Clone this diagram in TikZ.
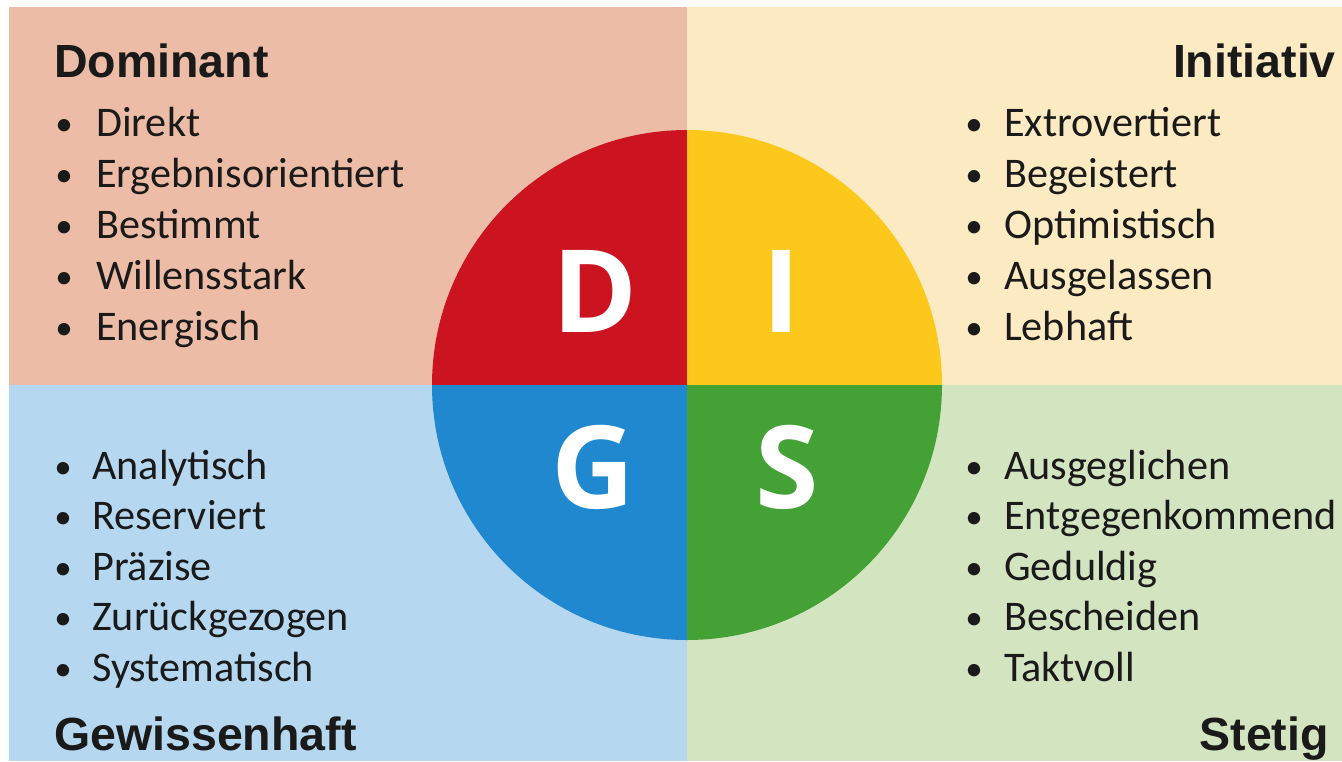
\documentclass[tikz,border=0pt]{standalone}
\usepackage{fontspec}
\setmainfont{Carlito}
\newfontfamily\hdfont{Liberation Sans}
\newfontfamily\ltfont{Open Sans}
\definecolor{bgD}{HTML}{EDBCA6}
\definecolor{bgI}{HTML}{FCEBC2}
\definecolor{bgG}{HTML}{B5D8F0}
\definecolor{bgS}{HTML}{D3E4C1}
\definecolor{cD}{HTML}{CC1420}
\definecolor{cI}{HTML}{FCC81C}
\definecolor{cG}{HTML}{1F88CE}
\definecolor{cS}{HTML}{44A136}
\definecolor{txt}{HTML}{1A1A1A}
\begin{document}
\begin{tikzpicture}[x=1pt,y=-1pt,
  item/.style={anchor=base west, inner sep=0pt, text=txt, font=\fontsize{42.2}{42.2}\selectfont},
  bul/.style={anchor=base, inner sep=0pt, text=txt, font=\fontsize{35}{35}\selectfont},
  hd/.style={inner sep=0pt, text=txt, font=\hdfont\bfseries\fontsize{46.5}{46.5}\selectfont},
  letter/.style={inner sep=0pt, text=white, font=\ltfont\bfseries\fontsize{115}{115}\selectfont}]
\useasboundingbox (0,0) rectangle (1342,761);
\fill[white] (0,0) rectangle (1342,761);
% quadrant backgrounds
\fill[bgD] (9,7) rectangle (687,385);
\fill[bgI] (687,7) rectangle (1342,385);
\fill[bgG] (9,385) rectangle (687,761);
\fill[bgS] (687,385) rectangle (1342,761);
% circle
\begin{scope}
  \clip (687,385) circle[radius=255pt];
  \fill[cD] (420,120) rectangle (687,385);
  \fill[cI] (687,120) rectangle (950,385);
  \fill[cG] (420,385) rectangle (687,650);
  \fill[cS] (687,385) rectangle (950,650);
\end{scope}
\node[letter] (LD) at (595,291) {D};
\node[letter] (LI) at (782,291) {I};
\node[letter] (LG) at (593,467) {G};
\node[letter] (LS) at (787,467) {S};
% headings
\node[hd, anchor=base west] (hD) at (54,77) {Dominant};
\node[hd, anchor=base east] (hI) at (1336,77) {Initiativ};
\node[hd, anchor=base west] (hG) at (54,750) {Gewissenhaft};
\node[hd, anchor=base east] (hS) at (1329,750) {Stetig};
% lists
\foreach \t [count=\k, evaluate=\k as \yy using 136+51*(\k-1)] in
  {Direkt,Ergebnisorientiert,Bestimmt,Willensstark,Energisch}{
  \node[bul] (bD\k) at (64,\yy-1) {•};
  \node[item] (tD\k) at (96,\yy) {\t};
}
\foreach \t [count=\k, evaluate=\k as \yy using 136+51*(\k-1)] in
  {Extrovertiert,Begeistert,Optimistisch,Ausgelassen,Lebhaft}{
  \node[bul] (bI\k) at (974,\yy-1) {•};
  \node[item] (tI\k) at (1004,\yy) {\t};
}
\foreach \t [count=\k, evaluate=\k as \yy using 479+50.5*(\k-1)] in
  {Analytisch,Reserviert,Präzise,Zurückgezogen,Systematisch}{
  \node[bul] (bG\k) at (63,\yy-1) {•};
  \node[item] (tG\k) at (92,\yy) {\t};
}
\foreach \t [count=\k, evaluate=\k as \yy using 479+50.5*(\k-1)] in
  {Ausgeglichen,Entgegenkommend,Geduldig,Bescheiden,Taktvoll}{
  \node[bul] (bS\k) at (974,\yy-1) {•};
  \node[item] (tS\k) at (1004,\yy) {\t};
}
\end{tikzpicture}
\end{document}
